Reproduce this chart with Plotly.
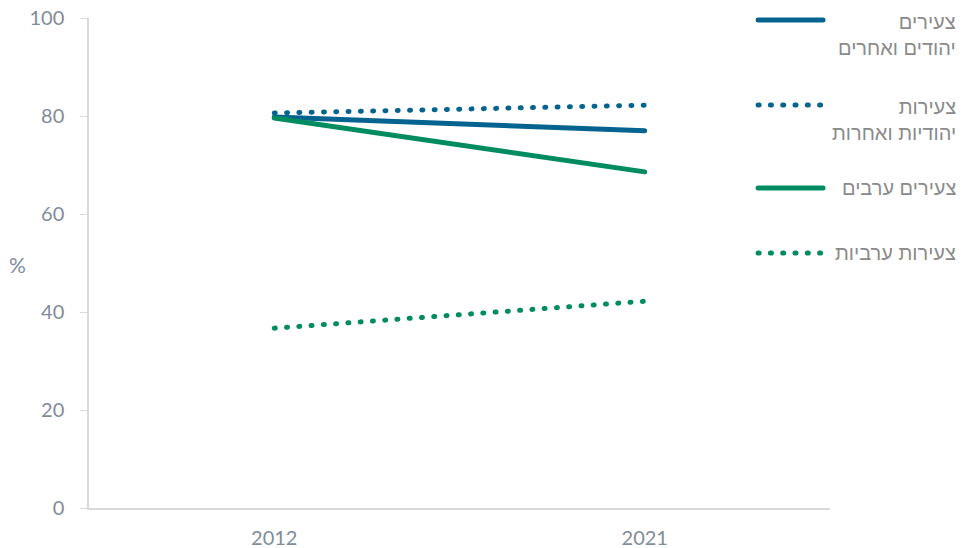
import plotly.graph_objects as go

years = ["2012", "2021"]
jewish_men = [79.8, 77.0]
jewish_women = [80.6, 82.2]
arab_men = [79.6, 68.6]
arab_women = [36.7, 42.2]

names = ["צעירים<br>יהודים ואחרים", "צעירות<br>יהודיות ואחרות", "צעירים ערבים", "צעירות ערביות"]
series = [jewish_men, jewish_women, arab_men, arab_women]
colors = ["#04638f", "#04638f", "#008b60", "#008b60"]
dashes = ["solid", "1px,11.3px", "solid", "1px,11.3px"]
y_ticks = [0, 20, 40, 60, 80, 100]

fig = go.Figure()
for nm, vals, c, d in zip(names, series, colors, dashes):
    fig.add_trace(go.Scatter(x=years, y=vals, mode="lines", name=nm,
                             line=dict(color=c, width=5, dash=d),
                             showlegend=False, hoverinfo="skip"))

# manual legend (right-aligned Hebrew text)
leg_y = [0.9959, 0.8224, 0.6531, 0.5204]
for nm, c, d, ly in zip(names, colors, dashes, leg_y):
    fig.add_shape(type="line", xref="paper", yref="paper", x0=0.903, x1=0.9906,
                  y0=ly, y1=ly, line=dict(color=c, width=5, dash=d))
    two = "<br>" in nm
    fig.add_annotation(xref="paper", yref="paper", x=1.173, y=ly + (0.023 if two else 0),
                       text=nm, showarrow=False, xanchor="right",
                       yanchor="top" if two else "middle", align="right",
                       font=dict(family="Liberation Sans, Arial, sans-serif", size=20, color="#8a8a8a"))

fig.add_annotation(xref="paper", yref="paper", x=-0.110, y=0.496, text="%", showarrow=False,
                   font=dict(family="Lato, sans-serif", size=21, color="#7f8c9a"))

fig.update_layout(
    width=965, height=548,
    margin=dict(l=89, r=135, t=18, b=40, autoexpand=False),
    paper_bgcolor="white", plot_bgcolor="white",
    font=dict(family="Lato, sans-serif", size=20, color="#7f8c9a"),
    showlegend=False,
)
fig.update_xaxes(type="category", range=[-0.5, 1.5], showline=True, linecolor="#d9d9d9",
                 linewidth=1.5, showgrid=False, ticks="", ticklabelstandoff=11, zeroline=False)
fig.update_yaxes(range=[0, 100], tickvals=y_ticks, showline=True, linecolor="#d9d9d9",
                 linewidth=1.5, showgrid=False, ticks="outside", ticklen=7, tickcolor="#d9d9d9",
                 ticklabelstandoff=12, zeroline=False)

post = """
document.body.style.margin='0';
document.documentElement.style.margin='0';
var fix=function(){document.querySelectorAll('path.js-line, .shapelayer path').forEach(function(p){p.style.strokeLinecap='round';});};
fix();
"""
fig.write_html("out.html", post_script=post, config={"displayModeBar": False})
